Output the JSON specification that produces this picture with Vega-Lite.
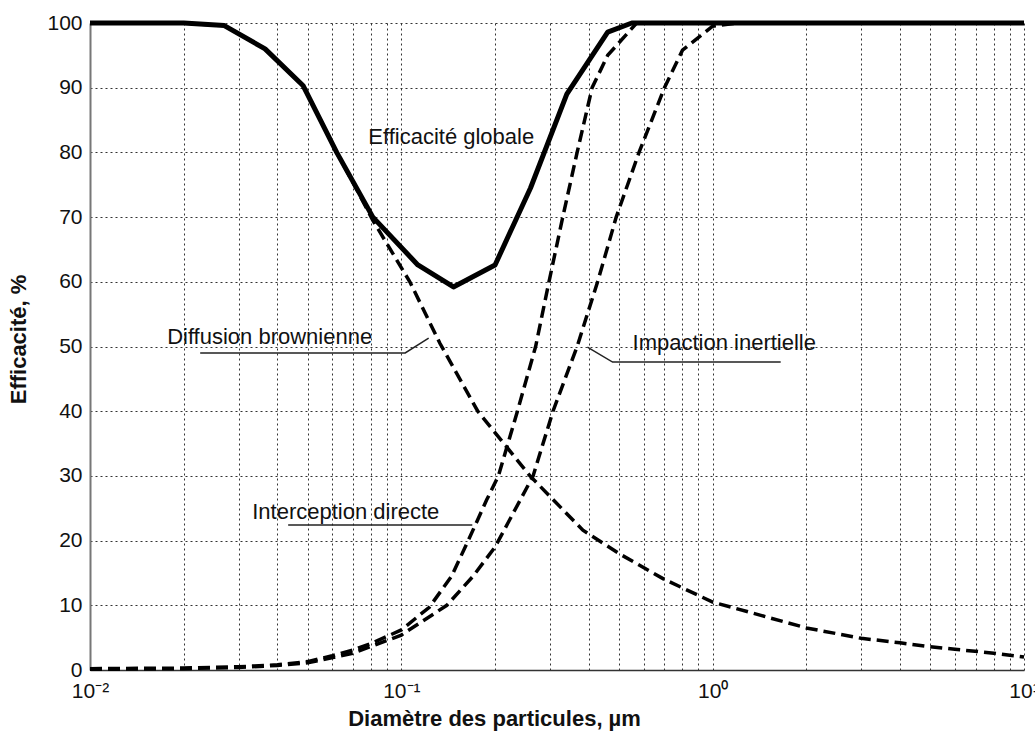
{
  "$schema": "https://vega.github.io/schema/vega-lite/v6.json",
  "width": 934,
  "height": 647,
  "autosize": "none",
  "padding": {"left": 90, "top": 23, "right": 11, "bottom": 65},
  "background": "white",
  "config": {
    "view": {"stroke": null},
    "font": "Liberation Sans",
    "axis": {"labelFont": "Liberation Sans", "titleFont": "Liberation Sans", "labelColor": "#111", "titleColor": "#111"}
  },
  "datasets": {
    "curves": [
      {"s": "glob", "d": 0.01, "e": 100}, {"s": "glob", "d": 0.02, "e": 100}, {"s": "glob", "d": 0.027, "e": 99.6},
      {"s": "glob", "d": 0.0365, "e": 96}, {"s": "glob", "d": 0.0484, "e": 90.3}, {"s": "glob", "d": 0.062, "e": 80},
      {"s": "glob", "d": 0.081, "e": 70}, {"s": "glob", "d": 0.113, "e": 62.6}, {"s": "glob", "d": 0.147, "e": 59.2},
      {"s": "glob", "d": 0.2, "e": 62.6}, {"s": "glob", "d": 0.26, "e": 74.5}, {"s": "glob", "d": 0.34, "e": 89},
      {"s": "glob", "d": 0.46, "e": 98.6}, {"s": "glob", "d": 0.55, "e": 100}, {"s": "glob", "d": 10, "e": 100},

      {"s": "diff", "d": 0.01, "e": 100}, {"s": "diff", "d": 0.02, "e": 100}, {"s": "diff", "d": 0.027, "e": 99.6},
      {"s": "diff", "d": 0.0365, "e": 96}, {"s": "diff", "d": 0.0484, "e": 90.3}, {"s": "diff", "d": 0.062, "e": 80},
      {"s": "diff", "d": 0.072, "e": 74.2}, {"s": "diff", "d": 0.081, "e": 69.5},
      {"s": "diff", "d": 0.1065, "e": 60}, {"s": "diff", "d": 0.133, "e": 50.5},
      {"s": "diff", "d": 0.176, "e": 40}, {"s": "diff", "d": 0.259, "e": 30}, {"s": "diff", "d": 0.383, "e": 21.6},
      {"s": "diff", "d": 0.5, "e": 18}, {"s": "diff", "d": 0.7, "e": 14}, {"s": "diff", "d": 1, "e": 10.5},
      {"s": "diff", "d": 2, "e": 6.5}, {"s": "diff", "d": 3, "e": 4.9}, {"s": "diff", "d": 4, "e": 4.2},
      {"s": "diff", "d": 5, "e": 3.6}, {"s": "diff", "d": 6, "e": 3.2}, {"s": "diff", "d": 8, "e": 2.6},
      {"s": "diff", "d": 10, "e": 2.0},

      {"s": "inter", "d": 0.01, "e": 0.2}, {"s": "inter", "d": 0.02, "e": 0.3}, {"s": "inter", "d": 0.03, "e": 0.5},
      {"s": "inter", "d": 0.04, "e": 0.8}, {"s": "inter", "d": 0.05, "e": 1.3}, {"s": "inter", "d": 0.06, "e": 2.2},
      {"s": "inter", "d": 0.07, "e": 3.1}, {"s": "inter", "d": 0.081, "e": 4.2}, {"s": "inter", "d": 0.1, "e": 6.2},
      {"s": "inter", "d": 0.123, "e": 9.7}, {"s": "inter", "d": 0.145, "e": 14.5}, {"s": "inter", "d": 0.164, "e": 20},
      {"s": "inter", "d": 0.188, "e": 26.3}, {"s": "inter", "d": 0.205, "e": 30}, {"s": "inter", "d": 0.236, "e": 40},
      {"s": "inter", "d": 0.27, "e": 50}, {"s": "inter", "d": 0.298, "e": 60}, {"s": "inter", "d": 0.33, "e": 70},
      {"s": "inter", "d": 0.367, "e": 80}, {"s": "inter", "d": 0.41, "e": 90}, {"s": "inter", "d": 0.46, "e": 95},
      {"s": "inter", "d": 0.57, "e": 100}, {"s": "inter", "d": 10, "e": 100},

      {"s": "imp", "d": 0.01, "e": 0.1}, {"s": "imp", "d": 0.02, "e": 0.2}, {"s": "imp", "d": 0.03, "e": 0.4},
      {"s": "imp", "d": 0.04, "e": 0.7}, {"s": "imp", "d": 0.05, "e": 1.1}, {"s": "imp", "d": 0.07, "e": 2.6},
      {"s": "imp", "d": 0.1, "e": 5.4}, {"s": "imp", "d": 0.14, "e": 10}, {"s": "imp", "d": 0.17, "e": 14.5},
      {"s": "imp", "d": 0.2, "e": 19}, {"s": "imp", "d": 0.265, "e": 30}, {"s": "imp", "d": 0.307, "e": 40},
      {"s": "imp", "d": 0.367, "e": 50}, {"s": "imp", "d": 0.427, "e": 60}, {"s": "imp", "d": 0.49, "e": 70},
      {"s": "imp", "d": 0.58, "e": 80}, {"s": "imp", "d": 0.7, "e": 90}, {"s": "imp", "d": 0.8, "e": 95.8},
      {"s": "imp", "d": 1.0, "e": 99.5}, {"s": "imp", "d": 1.2, "e": 100}, {"s": "imp", "d": 10, "e": 100}
    ],
    "labels": [
      {"t": "Efficacité globale", "d": 0.0783, "e": 82.4},
      {"t": "Diffusion brownienne", "d": 0.01769, "e": 51.5},
      {"t": "Impaction inertielle", "d": 0.553, "e": 50.5},
      {"t": "Interception directe", "d": 0.0332, "e": 24.4}
    ],
    "leaders": [
      {"id": "diff", "k": 1, "d": 0.02259, "e": 49.0},
      {"id": "diff", "k": 2, "d": 0.1029, "e": 49.0},
      {"id": "diff", "k": 3, "d": 0.1224, "e": 51.3},
      {"id": "imp", "k": 1, "d": 1.654, "e": 47.6},
      {"id": "imp", "k": 2, "d": 0.477, "e": 47.6},
      {"id": "imp", "k": 3, "d": 0.396, "e": 49.9},
      {"id": "inter", "k": 1, "d": 0.0433, "e": 22.4},
      {"id": "inter", "k": 2, "d": 0.169, "e": 22.4}
    ]
  },
  "encoding": {
    "x": {
      "field": "d", "type": "quantitative",
      "scale": {"type": "log", "domain": [0.01, 10], "nice": false},
      "axis": {
        "title": "Diamètre des particules, µm",
        "titleFontSize": 22, "titleFontWeight": "bold",
        "titleX": 404, "titleY": 48, "titleAlign": "center", "titleBaseline": "middle",
        "values": [0.01, 0.02, 0.03, 0.04, 0.05, 0.06, 0.07, 0.08, 0.09, 0.1, 0.2, 0.3, 0.4, 0.5, 0.6, 0.7, 0.8, 0.9, 1, 2, 3, 4, 5, 6, 7, 8, 9, 10],
        "labelExpr": "datum.value == 0.01 ? '10⁻²' : datum.value == 0.1 ? '10⁻¹' : datum.value == 1 ? '10⁰' : datum.value == 10 ? '10¹' : ''",
        "labelFontSize": 21, "labelPadding": 10, "labelFlush": false, "labelOverlap": false,
        "ticks": false,
        "domainColor": "#333", "domainWidth": 1.5,
        "grid": true, "gridColor": "#333", "gridDash": [2, 3], "gridWidth": 1
      }
    },
    "y": {
      "field": "e", "type": "quantitative",
      "scale": {"domain": [0, 100], "nice": false},
      "axis": {
        "title": "Efficacité, %",
        "titleFontSize": 22, "titleFontWeight": "bold",
        "titleX": -72, "titleY": 316, "titleAngle": -90, "titleAlign": "center", "titleBaseline": "middle",
        "values": [0, 10, 20, 30, 40, 50, 60, 70, 80, 90, 100],
        "labelFontSize": 21, "labelPadding": 8,
        "ticks": false,
        "domainColor": "#777", "domainWidth": 2,
        "grid": true, "gridColor": "#333", "gridDash": [2, 3], "gridWidth": 1
      }
    }
  },
  "layer": [
    {
      "data": {"name": "curves"},
      "transform": [{"filter": "datum.s != 'glob'"}],
      "mark": {"type": "line", "color": "black", "strokeWidth": 3.5, "strokeDash": [12, 6], "strokeCap": "butt"},
      "encoding": {"detail": {"field": "s"}}
    },
    {
      "data": {"name": "curves"},
      "transform": [{"filter": "datum.s == 'glob'"}],
      "mark": {"type": "line", "color": "black", "strokeWidth": 5, "strokeJoin": "round"}
    },
    {
      "data": {"name": "leaders"},
      "mark": {"type": "line", "color": "#222", "strokeWidth": 1.5},
      "encoding": {"detail": {"field": "id"}, "order": {"field": "k"}}
    },
    {
      "data": {"name": "labels"},
      "mark": {"type": "text", "align": "left", "baseline": "middle", "fontSize": 22, "font": "Liberation Sans", "color": "#111"},
      "encoding": {"text": {"field": "t"}}
    }
  ]
}
